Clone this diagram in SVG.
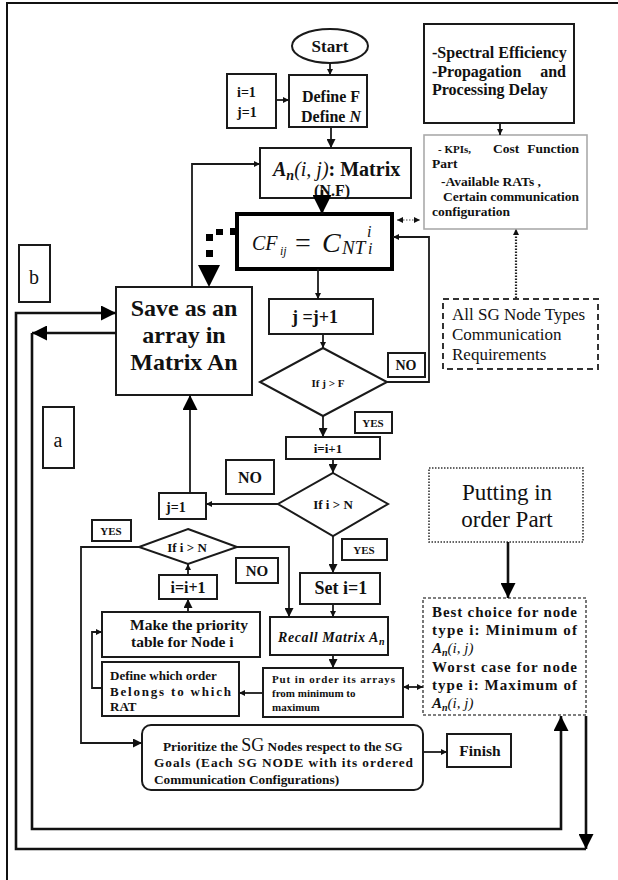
<svg xmlns="http://www.w3.org/2000/svg" width="618" height="880" viewBox="0 0 618 880">
<defs>
<style>
.bx{fill:#fff;stroke:#1a1a1a;stroke-width:2}
.ln{fill:none;stroke:#1a1a1a;stroke-width:1.8}
.tk{fill:none;stroke:#111;stroke-width:2.6}
.t{font-family:"Liberation Serif","Times New Roman",serif;font-weight:bold;fill:#111}
.r{font-family:"Liberation Serif","Times New Roman",serif;font-weight:normal;fill:#111}
.c{text-anchor:middle}
.i{font-style:italic}
</style>
<marker id="sm" viewBox="0 0 10 10" refX="10" refY="5" markerWidth="6" markerHeight="6" markerUnits="userSpaceOnUse" orient="auto-start-reverse"><path d="M0,0 L10,5 L0,10 z" fill="#111"/></marker>
<marker id="md" viewBox="0 0 10 10" refX="10" refY="5" markerWidth="9" markerHeight="9" markerUnits="userSpaceOnUse" orient="auto-start-reverse"><path d="M0,0 L10,5 L0,10 z" fill="#111"/></marker>
<marker id="lg" viewBox="0 0 10 10" refX="10" refY="5" markerWidth="15" markerHeight="15" markerUnits="userSpaceOnUse" orient="auto-start-reverse"><path d="M0,0 L10,5 L0,10 z" fill="#000"/></marker>
<marker id="xl" viewBox="0 0 10 10" refX="10" refY="5" markerWidth="19" markerHeight="19" markerUnits="userSpaceOnUse" orient="auto-start-reverse"><path d="M0,0 L10,5 L0,10 z" fill="#000"/></marker>
</defs>
<rect width="618" height="880" fill="#fff"/>
<path d="M7,880 V3 H618" fill="none" stroke="#111" stroke-width="2"/>

<g id="start"><ellipse cx="330" cy="46" rx="38" ry="17" class="bx"/><text x="330" y="52" class="t c" font-size="17">Start</text></g>
<g id="init"><rect x="227" y="74" width="49" height="54" class="bx"/><text x="237" y="97" class="t" font-size="14">i=1</text><text x="237" y="117" class="t" font-size="14">j=1</text></g>
<g id="define"><rect x="289" y="75" width="78" height="52" class="bx"/><text x="331" y="102" class="t c" font-size="16">Define F</text><text x="331" y="122" class="t c" font-size="16">Define <tspan class="i">N</tspan></text></g>
<g id="matrix"><rect x="260" y="148" width="151" height="50" class="bx"/><text x="273" y="176" class="t" font-size="20"><tspan class="i">A</tspan><tspan class="i" font-size="14" dy="4">n</tspan><tspan class="i" font-weight="normal" dy="-4">(i, j)</tspan>: Matrix</text><text x="332" y="196" class="t c" font-size="16">(N.F)</text></g>
<g id="cf"><rect x="237" y="214" width="155" height="55" fill="#fff" stroke="#000" stroke-width="4"/>
<text class="r i" y="250"><tspan x="252" font-size="20">CF</tspan><tspan x="280" y="255" font-size="12">ij</tspan><tspan x="295" y="252" font-size="28" font-style="normal">=</tspan><tspan x="322" y="252" font-size="28">C</tspan><tspan x="342" y="254" font-size="19">NT</tspan><tspan x="367" y="237" font-size="16">i</tspan><tspan x="368" y="254" font-size="16">i</tspan></text></g>
<g id="spectral"><rect x="424" y="24" width="150" height="99" class="bx"/><text x="432" y="58" class="t" font-size="16">-Spectral Efficiency</text><text x="432" y="77" class="t" font-size="16">-Propagation</text><text x="566" y="77" class="t" font-size="16" text-anchor="end">and</text><text x="432" y="95" class="t" font-size="16">Processing Delay</text></g>
<g id="kpi"><rect x="424" y="135" width="163" height="94" fill="#fff" stroke="#aaa" stroke-width="1.6"/><text x="438" y="153" class="t" font-size="11">- KPIs,</text><text x="493" y="153" class="t" font-size="13.5">Cost</text><text x="579" y="153" class="t" font-size="13.5" text-anchor="end">Function</text><text x="432" y="168" class="t" font-size="13.5">Part</text><text x="441" y="186" class="t" font-size="13.5">-Available RATs ,</text><text x="443" y="201" class="t" font-size="13.5" textLength="136" lengthAdjust="spacing">Certain communication</text><text x="432" y="216" class="t" font-size="13.5">configuration</text></g>
<g id="allsg"><rect x="443" y="299" width="155" height="70" fill="#fff" stroke="#333" stroke-width="2" stroke-dasharray="6 4"/><text x="452" y="320" class="r" font-size="17">All SG Node Types</text><text x="452" y="340" class="r" font-size="17">Communication</text><text x="452" y="360" class="r" font-size="17">Requirements</text></g>
<g id="b"><rect x="19" y="245" width="31" height="57" class="bx"/><text x="34" y="284" class="r c" font-size="20">b</text></g>
<g id="a"><rect x="43" y="407" width="31" height="61" class="bx"/><text x="58" y="447" class="r c" font-size="20">a</text></g>
<g id="save"><rect x="116" y="287" width="136" height="108" class="bx"/><text x="184" y="316" class="t c" font-size="24">Save as an</text><text x="184" y="343" class="t c" font-size="24">array in</text><text x="184" y="370" class="t c" font-size="24">Matrix An</text></g>
<g id="jinc"><rect x="269" y="299" width="104" height="35" class="bx"/><text x="292" y="323" class="t" font-size="18">j =j+1</text></g>
<g id="ifjf"><polygon points="323,348 387,382 323,416 260,382" class="bx"/><text x="328" y="387" class="t c" font-size="11">If j &gt; F</text></g>
<g id="no1"><rect x="388" y="353" width="37" height="24" class="bx"/><text x="406" y="370" class="t c" font-size="14">NO</text></g>
<g id="yes1"><rect x="355" y="412" width="37" height="21" class="bx"/><text x="373" y="427" class="t c" font-size="11">YES</text></g>
<g id="iinc"><rect x="286" y="437" width="94" height="22" class="bx"/><text x="328" y="453" class="t c" font-size="13">i=i+1</text></g>
<g id="ifin"><polygon points="333,473 388,504 333,536 278,504" class="bx"/><text x="333" y="509" class="t c" font-size="13">If i &gt; N</text></g>
<g id="no2"><rect x="226" y="460" width="48" height="34" class="bx"/><text x="250" y="483" class="t c" font-size="16">NO</text></g>
<g id="j1"><rect x="159" y="493" width="47" height="26" class="bx"/><text x="166" y="512" class="t" font-size="14">j=1</text></g>
<g id="yes2"><rect x="342" y="539" width="45" height="21" class="bx"/><text x="364" y="554" class="t c" font-size="11">YES</text></g>
<g id="seti"><rect x="300" y="573" width="80" height="31" class="bx"/><text x="341" y="594" class="t c" font-size="18">Set i=1</text></g>
<g id="recall"><rect x="270" y="617" width="118" height="38" class="bx"/><text x="278" y="642" class="t i" font-size="14" letter-spacing="0.6">Recall Matrix A<tspan font-size="10" dy="3">n</tspan></text></g>
<g id="put"><rect x="263" y="668" width="140" height="49" class="bx"/><text x="272" y="683" class="t" font-size="11" textLength="123" lengthAdjust="spacing">Put in order its arrays</text><text x="272" y="697" class="t" font-size="11">from minimum to</text><text x="272" y="711" class="t" font-size="11">maximum</text></g>
<g id="putting"><rect x="429" y="468" width="154" height="74" fill="#fff" stroke="#333" stroke-width="1.6" stroke-dasharray="1.5 1.5"/><text x="507" y="500" class="r c" font-size="23">Putting in</text><text x="507" y="527" class="r c" font-size="23">order Part</text></g>
<g id="best"><rect x="423" y="598" width="163" height="117" fill="#fff" stroke="#555" stroke-width="1.6" stroke-dasharray="3 2"/><text x="432" y="617" class="t" font-size="15" textLength="145" lengthAdjust="spacing">Best choice for node</text><text x="432" y="635" class="t" font-size="15" textLength="145" lengthAdjust="spacing">type i: Minimum of</text><text x="432" y="653" class="t i" font-size="15">A<tspan font-size="10" dy="3">n</tspan><tspan dy="-3" font-weight="normal">(i, j)</tspan></text><text x="432" y="672" class="t" font-size="15" textLength="145" lengthAdjust="spacing">Worst case for node</text><text x="432" y="690" class="t" font-size="15" textLength="145" lengthAdjust="spacing">type i: Maximum of</text><text x="432" y="708" class="t i" font-size="15">A<tspan font-size="10" dy="3">n</tspan><tspan dy="-3" font-weight="normal">(i, j)</tspan></text></g>
<g id="ifin2"><polygon points="188,529 237,547 188,564 139,547" class="bx"/><text x="187" y="552" class="t c" font-size="13">If i &gt; N</text></g>
<g id="yes3"><rect x="92" y="520" width="39" height="21" class="bx"/><text x="111" y="535" class="t c" font-size="11">YES</text></g>
<g id="no3"><rect x="236" y="558" width="42" height="25" class="bx"/><text x="257" y="576" class="t c" font-size="15">NO</text></g>
<g id="iinc2"><rect x="159" y="575" width="58" height="24" class="bx"/><text x="188" y="593" class="t c" font-size="16">i=i+1</text></g>
<g id="make"><rect x="102" y="612" width="158" height="45" class="bx"/><text x="130" y="630" class="t" font-size="15.5">Make the priority</text><text x="131" y="647" class="t" font-size="15.5">table for Node i</text></g>
<g id="defineorder"><rect x="102" y="662" width="137" height="54" class="bx"/><text x="110" y="680" class="t" font-size="13">Define which order</text><text x="110" y="696" class="t" font-size="13" textLength="121" lengthAdjust="spacing">Belongs to which</text><text x="110" y="711" class="t" font-size="13">RAT</text></g>
<g id="prioritize"><rect x="142" y="725" width="281" height="65" rx="9" class="bx"/><text x="163" y="751" class="t" font-size="13.3">Prioritize the <tspan font-size="18" font-weight="normal">SG</tspan> Nodes respect to the SG</text><text x="154" y="767" class="t" font-size="13.3" textLength="259" lengthAdjust="spacing">Goals (Each SG NODE with its ordered</text><text x="154" y="784" class="t" font-size="13.3">Communication Configurations)</text></g>
<g id="finish"><rect x="447" y="734" width="64" height="33" class="bx"/><text x="480" y="756" class="t c" font-size="15.5">Finish</text></g>

<g id="connectors">
<path d="M330,63 V75" class="ln" marker-end="url(#sm)"/>
<path d="M276,100 H289" class="ln" stroke-width="1.2" marker-end="url(#sm)"/>
<path d="M331,127 V148" class="ln" marker-end="url(#md)"/>
<path d="M192,287 V164 H260" class="ln" marker-end="url(#sm)"/>
<path d="M322,190 V214" class="tk" marker-end="url(#xl)"/>
<path d="M500,123 V135" class="ln" stroke-width="1.2" marker-end="url(#sm)"/>
<path d="M397,220 H420" fill="none" stroke="#888" stroke-width="1.4" stroke-dasharray="1.5 1.5" marker-start="url(#sm)" marker-end="url(#sm)"/>
<path d="M516,298 V229" fill="none" stroke="#222" stroke-width="2.2" stroke-dasharray="1.5 1.5" marker-end="url(#sm)"/>
<path d="M318,269 V299" class="ln" marker-end="url(#sm)"/>
<path d="M323,334 V348" class="ln" marker-end="url(#sm)"/>
<path d="M387,382 H429 V237 H393" class="ln" marker-end="url(#sm)"/>
<path d="M323,416 V437" class="ln" marker-end="url(#md)"/>
<path d="M333,459 V473" class="ln" marker-end="url(#md)"/>
<path d="M278,504 H206" class="ln" marker-end="url(#sm)"/>
<path d="M190,493 V395" class="ln" marker-end="url(#lg)"/>
<path d="M333,536 V573" class="ln" marker-end="url(#md)"/>
<path d="M333,604 V617" class="ln" stroke-width="1.2" marker-end="url(#sm)"/>
<path d="M237,547 H289 V617" class="ln" marker-end="url(#md)"/>
<path d="M139,547 H81 V743 H142" class="ln" marker-end="url(#md)"/>
<path d="M188,575 V564" class="ln" marker-end="url(#sm)"/>
<path d="M188,612 V599" class="ln" marker-end="url(#md)"/>
<path d="M102,688 H92 V632 H102" class="ln" marker-end="url(#sm)"/>
<path d="M333,655 V668" class="ln" marker-end="url(#md)"/>
<path d="M263,693 H239" class="ln" marker-end="url(#sm)"/>
<path d="M403,687 H423" class="ln" marker-start="url(#sm)" marker-end="url(#sm)"/>
<path d="M508,542 V598" class="tk" stroke-width="2" marker-end="url(#lg)"/>
<path d="M423,752 H447" class="ln" marker-end="url(#sm)"/>
<path d="M116,333 H32" class="tk" stroke-width="2" marker-end="url(#lg)"/>
<path d="M32,333 V829 H561 V716" class="tk" stroke-width="2" marker-end="url(#lg)"/>
<path d="M586,716 V849" class="tk" stroke-width="2" marker-end="url(#lg)"/>
<path d="M586,849 H16 V313 H116" class="tk" stroke-width="2" marker-end="url(#lg)"/>
<g id="dotted-thick" fill="#000">
<rect x="230" y="228" width="7" height="7"/><rect x="216" y="229" width="7" height="6"/><rect x="206" y="234" width="7" height="7"/><rect x="206" y="250" width="7" height="7"/>
<polygon points="198,265 220,265 209,287"/>
</g>
</g>
</svg>
